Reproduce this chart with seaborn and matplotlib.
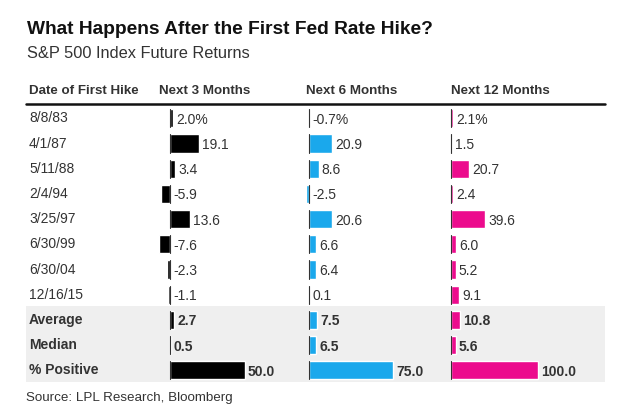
import pandas as pd
import numpy as np
import matplotlib.pyplot as plt
import seaborn as sns
from matplotlib.patches import Rectangle

# --- DATA ---
dates = ["8/8/83", "4/1/87", "5/11/88", "2/4/94", "3/25/97", "6/30/99",
         "6/30/04", "12/16/15", "Average", "Median", "% Positive"]
next_3m = [2.0, 19.1, 3.4, -5.9, 13.6, -7.6, -2.3, -1.1, 2.7, 0.5, 50.0]
next_6m = [-0.7, 20.9, 8.6, -2.5, 20.6, 6.6, 6.4, 0.1, 7.5, 6.5, 75.0]
next_12m = [2.1, 1.5, 20.7, 2.4, 39.6, 6.0, 5.2, 9.1, 10.8, 5.6, 100.0]
headers = ["Date of First Hike", "Next 3 Months", "Next 6 Months", "Next 12 Months"]
summary_rows = ["Average", "Median", "% Positive"]

colors = ["#000000", "#1aa8ec", "#ec0b8d"]

df = pd.DataFrame({"date": dates, "3m": next_3m, "6m": next_6m, "12m": next_12m})

sns.set_style("white")
plt.rcParams["font.family"] = ["Liberation Sans", "DejaVu Sans"]

W, H = 630, 418
fig = plt.figure(figsize=(W / 100, H / 100), dpi=100)

# background axes in pixel coords for text and table furniture
bg = fig.add_axes([0, 0, 1, 1])
bg.set_xlim(0, W)
bg.set_ylim(H, 0)
bg.axis("off")

row_top, row_h = 104.4, 25.2
n = len(dates)
bg.add_patch(Rectangle((26, row_top + 8 * row_h), 579, 3 * row_h,
                       color="#efefef", lw=0, zorder=0))
bg.plot([26, 605], [104, 104], color="#111111", lw=1.8)

bg.text(27, 28, "What Happens After the First Fed Rate Hike?", fontsize=13.8,
        fontweight="bold", color="#111111", va="center_baseline")
bg.text(27, 52, "S&P 500 Index Future Returns", fontsize=11.8,
        color="#333333", va="center_baseline")
bg.text(26, 396, "Source: LPL Research, Bloomberg", fontsize=9.6,
        color="#333333", va="center_baseline")

for hx, h in zip([29, 159, 306, 451], headers):
    bg.text(hx, 90, h, fontsize=9.6, fontweight="bold", color="#333333",
            va="center_baseline")

for i, d in enumerate(dates):
    yc = row_top + (i + 0.5) * row_h
    bold = d in summary_rows
    bg.text(29, yc, d, fontsize=10, color="#333333", va="center_baseline",
            fontweight="bold" if bold else "normal")

# --- bar columns: zero position (px), scale (px per unit) ---
cols = [("3m", 170, 1.50), ("6m", 309, 1.12), ("12m", 451, 0.87)]
ax_w = 140

for (col, zero_px, scale), c in zip(cols, colors):
    left_px = zero_px - 20
    right_px = left_px + ax_w
    ax = fig.add_axes([left_px / W, 1 - (row_top + n * row_h) / H,
                       ax_w / W, n * row_h / H])
    ax.patch.set_alpha(0)
    sns.barplot(data=df, x=col, y="date", orient="h", color=c, ax=ax,
                width=0.72, saturation=1)
    ax.set_xlim((left_px - zero_px) / scale, (right_px - zero_px) / scale)
    ax.set_ylim(n - 0.5 - 0.05, -0.5 - 0.05)
    ax.axis("off")
    for i in range(n):
        ax.plot([0, 0], [i - 0.36, i + 0.36], color="#333333", lw=0.8)
    pad = 3 / scale
    for i, v in enumerate(df[col]):
        label = f"{v:.1f}%" if i == 0 else f"{v:.1f}"
        bold = dates[i] in summary_rows
        ax.text(max(v, 0) + pad, i, label, fontsize=10, color="#333333",
                va="center_baseline", fontweight="bold" if bold else "normal")

fig.savefig("out.png", dpi=100)
